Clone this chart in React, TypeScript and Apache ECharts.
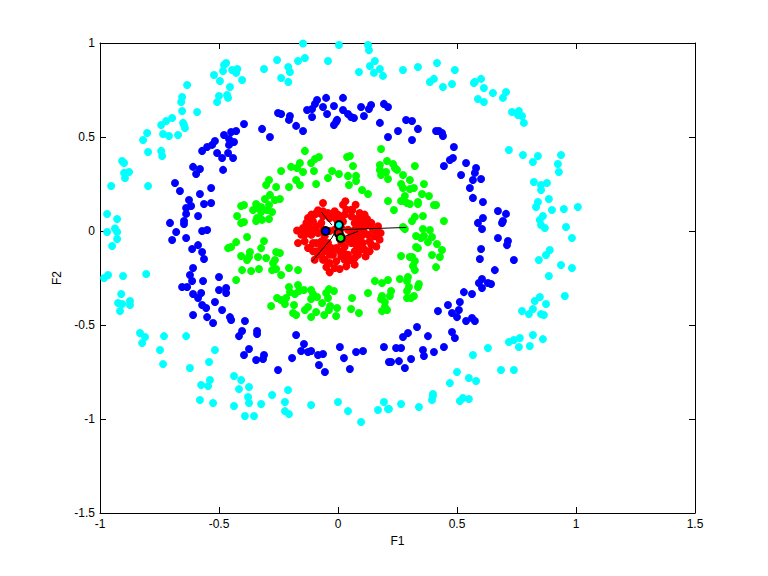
import React, { useEffect, useRef } from "react";
import * as echarts from "echarts";

const xTicks = [-1, -0.5, 0, 0.5, 1, 1.5];
const yTicks = [-1.5, -1, -0.5, 0, 0.5, 1];

const cyanPoints: number[][] = [
[-.147,.997],[.004,.989],[.126,.989],[.130,.961],[-.139,.920],[-.168,.904],[-.256,.910],[-.042,.904],[-.311,.862],[-.209,.872],[-.202,.846],[-.239,.814],[-.209,.793],[.155,.904],[.134,.878],[.176,.862],[.151,.841],[.088,.846],[.189,.825],
[-.470,.894],[-.479,.883],[-.483,.851],[-.521,.830],[-.445,.856],[-.423,.862],[-.428,.841],[-.496,.798],[-.403,.803],[-.454,.766],[-.634,.777],[-.500,.718],[-.466,.723],[-.462,.708],[-.508,.686],[-.655,.713],[-.659,.686],[-.592,.633],[-.655,.638],[-.697,.601],[-.722,.585],[-.743,.564],[-.651,.575],[-.647,.564],[-.643,.548],[-.735,.516],[-.710,.505],[-.672,.511],[-.802,.521],[-.819,.484],[-.798,.420],[-.743,.426],[-.739,.399],[-.907,.372],[-.899,.362],[-.878,.314],[-.899,.309],[-.895,.282],[-.953,.239],[-.798,.239],[-.970,.090],[-.928,.064],[-.937,.013],
[.273,.856],[.336,.872],[.416,.894],[.491,.856],[.386,.793],[.403,.809],[.441,.766],[.479,.782],[.571,.787],[.575,.793],[.601,.809],[.613,.761],[.651,.734],[.706,.739],[.693,.708],[.588,.702],[.613,.686],[.731,.633],[.760,.638],[.756,.617],[.773,.612],[.781,.575],[.718,.431],[.777,.404],[.840,.399],[.819,.367],[.937,.404],[.924,.356],[.928,.314],[.823,.261],[.853,.245],[.878,.255],[.853,.218],[.886,.170],[.840,.154],[.832,.128],[.899,.112],[.949,.117],[1.008,.128],[.861,.080],[.848,.059],[.853,.032],[.869,.016],[.958,.021],
[-.970,-.005],[-.928,-.005],[-.928,-.043],[-.949,-.080],[-.983,-.250],[-.966,-.234],[-.903,-.239],[-.806,-.229],[-.911,-.335],[-.924,-.383],[-.907,-.388],[-.874,-.372],[-.874,-.394],[-.916,-.426],[-.832,-.543],[-.811,-.564],[-.823,-.596],[-.731,-.559],[-.638,-.559],[-.748,-.633],[-.517,-.633],[-.735,-.708],[-.542,-.697],[-.622,-.729],[-.437,-.771],[-.407,-.793],[-.538,-.793],[-.575,-.819],[-.546,-.825],[-.416,-.841],[-.374,-.830],[-.277,-.872],[-.210,-.846],[-.378,-.883],[-.580,-.899],[-.525,-.915],[-.374,-.915],[-.323,-.920],[-.437,-.931],[-.223,-.910],[-.113,-.926],[0,-.910],[.193,-.910],[-.223,-.958],[-.206,-.974],[-.391,-.984],[-.353,-.984],[.042,-.958],[.168,-.952],[.210,-.947],[.097,-1.016],
[.983,-.037],[.890,-.101],[.874,-.128],[.844,-.154],[.937,-.181],[.983,-.197],[.886,-.239],[.953,-.346],[.848,-.351],[.827,-.372],[.874,-.388],[.819,-.415],[.773,-.426],[.802,-.442],[.853,-.442],[.865,-.447],[.819,-.553],[.861,-.575],[.764,-.569],[.739,-.580],[.718,-.590],[.760,-.617],[.806,-.612],[.630,-.622],[.567,-.660],[.685,-.739],[.739,-.739],[.500,-.750],[.550,-.782],[.580,-.798],[.470,-.809],[.399,-.867],[.399,-.878],[.395,-.899],[.525,-.888],[.512,-.904],[.550,-.894],[.265,-.920],[.340,-.936],[.214,-.947],
];

const bluePoints: number[][] = [
[-.395,.569],[-.428,.532],[-.449,.527],[-.479,.511],[-.517,.479],[-.529,.458],[-.550,.447],[-.571,.426],[-.458,.489],[-.437,.473],[-.458,.458],[-.508,.415],[-.462,.415],[-.487,.388],[-.441,.388],[-.483,.325],[-.609,.341],[-.580,.330],[-.596,.303],[-.685,.255],[-.664,.213],[-.533,.229],[-.580,.197],[-.626,.165],[-.617,.133],[-.638,.122],[-.563,.144],[-.533,.149],[-.638,.091],[-.588,.080],[-.647,.053],[-.647,.037],[-.706,.043],[-.319,.543],[-.286,.500],[-.252,.628],[-.239,.622],[-.202,.612],[-.206,.591],[-.176,.559],[-.147,.532],[-.130,.644],[-.109,.649],[-.109,.606],[-.097,.676],[-.088,.697],[-.063,.660],[-.050,.708],[-.046,.622],[-.017,.665],[.021,.708],[.021,.644],[.042,.622],[.055,.606],[.067,.601],[.097,.660],[.109,.612],[.139,.670],[.130,.649],[-.004,.591],[-.008,.580],[-.017,.564],[.176,.575],[.193,.676],[.210,.660],[.210,.500],
[.286,.590],[.311,.585],[.252,.532],[.336,.543],[.311,.484],[.412,.532],[.424,.532],[.437,.521],[.441,.505],[.487,.447],[.483,.388],[.470,.378],[.445,.346],[.538,.362],[.580,.335],[.575,.309],[.517,.298],[.567,.271],[.601,.277],[.554,.229],[.567,.176],[.609,.154],[.672,.106],[.706,.091],[.609,.069],[.588,.043],[.693,.053],[.689,.043],[.605,.011],
[-.697,-.048],[-.680,-.005],[-.638,-.037],[-.571,0],[-.550,.005],[-.588,-.075],[-.613,-.096],[-.571,-.112],[-.563,-.149],[-.609,-.197],[-.622,-.234],[-.613,-.266],[-.567,-.266],[-.500,-.245],[-.655,-.298],[-.634,-.298],[-.609,-.335],[-.575,-.330],[-.588,-.356],[-.500,-.314],[-.470,-.303],[-.470,-.330],[-.517,-.378],[-.571,-.394],[-.554,-.410],[-.487,-.420],[-.609,-.447],[-.550,-.458],[-.525,-.489],[-.454,-.458],[-.449,-.473],[-.391,-.479],[-.403,-.532],[-.416,-.559],[-.340,-.532],[-.340,-.548],[-.176,-.553],[-.143,-.601],[-.155,-.638],[-.126,-.644],[-.113,-.638],[-.084,-.660],[-.063,-.654],[.008,-.617],[.025,-.676],[.076,-.644],[.105,-.638],[.193,-.617],[-.374,-.628],[-.395,-.660],[-.311,-.660],[-.315,-.681],[-.344,-.686],[-.193,-.676],[-.252,-.739],[-.080,-.713],[-.055,-.750],[.050,-.734],[.214,-.697],
[.672,-.037],[.714,-.053],[.710,-.075],[.601,-.096],[.596,-.149],[.739,-.154],[.659,-.208],[.605,-.255],[.592,-.277],[.630,-.277],[.643,-.282],[.605,-.303],[.529,-.325],[.563,-.335],[.512,-.378],[.462,-.394],[.508,-.420],[.420,-.426],[.479,-.436],[.500,-.458],[.563,-.463],[.538,-.479],[.575,-.479],[.332,-.511],[.294,-.543],[.273,-.564],[.378,-.559],[.479,-.537],[.491,-.569],[.445,-.617],[.244,-.622],[.265,-.622],[.357,-.633],[.403,-.644],[.361,-.665],[.307,-.681],[.256,-.692],[.223,-.697],[.281,-.729],
];

const greenPoints: number[][] = [
[-.139,.426],[-.080,.394],[-.097,.383],[-.113,.362],[-.160,.362],[-.197,.341],[-.172,.335],[-.147,.314],[-.239,.319],[-.176,.271],[-.160,.245],[-.101,.319],[-.025,.319],[.004,.303],[-.042,.282],[.038,.394],[.050,.399],[.063,.346],[.042,.293],[.076,.293],[.076,.266],[.046,.245],[.101,.218],[.126,.197],[.181,.436],[.176,.351],[.206,.372],[.176,.325],[.202,.314],[.181,.298],[.210,.277],[.210,.160],[-.092,.250],[-.290,.271],[-.302,.245],[-.260,.234],[-.206,.234],[-.286,.192],[-.307,.170],[-.265,.165],[-.244,.170],[-.395,.138],[-.407,.133],[-.344,.144],[-.290,.138],[-.323,.128],[-.357,.112],[-.336,.122],[-.298,.112],[-.277,.101],[-.323,.101],[-.424,.080],[-.340,.069],[-.344,.053],[-.319,.059],[-.290,.064],[-.395,.048],[-.407,.043],
[.231,.356],[.239,.335],[.248,.325],[.323,.346],[.273,.298],[.302,.271],[.265,.250],[.273,.229],[.361,.250],[.302,.223],[.319,.229],[.353,.197],[.382,.186],[.281,.186],[.265,.160],[.277,.160],[.290,.149],[.302,.144],[.336,.154],[.336,.144],[.403,.138],[.412,.138],[.235,.112],[.357,.080],[.323,.075],[.311,.053],[.445,.053],[.273,.021],[.357,.011],[.386,.005],[.281,.011],
[-.382,-.032],[-.428,-.059],[-.462,-.091],[-.449,-.085],[-.311,-.053],[-.323,-.091],[-.370,-.112],[-.260,-.112],[-.244,-.117],[-.407,-.133],[-.374,-.138],[-.382,-.154],[-.336,-.138],[-.302,-.144],[-.265,-.154],[-.273,-.170],[-.403,-.208],[-.365,-.213],[-.332,-.202],[-.277,-.208],[-.260,-.202],[-.206,-.197],[-.168,-.208],[-.239,-.234],[-.428,-.261],[.155,-.266],[.185,-.277],[.210,-.261],[-.206,-.298],[-.168,-.287],[-.202,-.325],[-.164,-.319],[-.143,-.314],[-.113,-.314],[-.181,-.335],[-.105,-.335],[-.038,-.309],[-.017,-.319],[-.050,-.330],[.126,-.330],[-.256,-.356],[-.239,-.367],[-.218,-.356],[-.223,-.388],[-.113,-.362],[-.088,-.351],[-.042,-.356],[.059,-.356],[.185,-.346],[.181,-.362],[.197,-.378],[-.281,-.399],[-.185,-.394],[-.067,-.383],[-.033,-.399],[-.004,-.410],[-.126,-.404],[-.139,-.420],[-.038,-.420],[.055,-.415],[.197,-.404],[.185,-.426],[.206,-.420],[-.189,-.436],[-.176,-.447],[-.092,-.431],[-.058,-.447],[-.113,-.458],[-.008,-.452],[.088,-.436],
[.328,-.027],[.349,-.037],[.361,-.027],[.395,-.032],[.378,-.059],[.416,-.069],[.328,-.085],[.336,-.091],[.437,-.101],[.395,-.128],[.428,-.138],[.265,-.133],[.302,-.138],[.311,-.138],[.323,-.160],[.315,-.186],[.323,-.208],[.412,-.192],[.294,-.245],[.260,-.255],[.290,-.266],[.340,-.282],[.336,-.298],[.298,-.298],[.290,-.319],[.223,-.319],[.218,-.346],[.319,-.346],[.307,-.356],[.290,-.356],
];

const redPoints: number[][] = [
[-.063,.149],[.031,.158],[.021,.140],[.074,.140],[.060,.110],[.091,.096],[.112,.087],[.122,.064],[.140,.043],[.168,.025],[.179,-.011],[.154,-.028],[.175,-.046],[.140,-.073],[.161,-.082],[.133,-.108],[.116,-.135],[.084,-.126],[.070,-.179],[.035,-.188],[.007,-.202],[-.035,-.220],[-.049,-.192],[-.063,-.153],[-.098,-.153],[-.105,-.108],[-.126,-.090],[-.168,-.064],[-.172,.003],[-.140,-.020],[-.133,.043],[-.112,.087],[-.084,.110],[-.063,.105],[-.014,.105],[.007,.078],
[-.091,.096],[-.063,.078],[-.035,.069],[-.007,.064],[.028,.087],[.056,.078],[.084,.069],[-.119,.051],[-.070,.043],[0,.051],[.070,.043],[.098,.051],[.126,.034],[-.147,.016],[-.119,.016],[-.091,.025],[-.063,.007],[.014,.016],[.042,.007],[.070,.007],[.098,.016],[.147,.007],[-.112,-.020],[-.084,-.011],[-.056,-.028],[.014,-.028],[-.140,-.055],[-.105,-.064],[-.070,-.055],[-.042,-.064],[.014,-.064],[.042,-.046],[.070,-.037],[.098,-.028],[.126,-.020],[-.070,-.090],[-.042,-.099],[-.007,-.090],[.028,-.082],[.077,-.073],[.105,-.064],[-.084,-.126],[-.056,-.108],[-.021,-.126],[.007,-.108],[.042,-.126],[.070,-.108],[.098,-.099],[-.035,-.170],[-.007,-.161],[.028,-.153],[.056,-.153],
[-.042,.096],[-.105,.051],[-.154,-.020],[-.126,-.011],[-.098,.007],[-.035,0],[-.014,.007],[.021,.051],[.084,.034],[.112,.025],[.056,-.020],[.084,-.011],[.112,-.011],[.161,-.011],[.133,-.055],[.091,-.055],[.056,-.064],[.021,-.108],[-.035,-.126],[-.070,-.126],[.084,-.090],[.112,-.099],[.014,-.135],[-.056,-.153],[-.014,-.197],[.042,-.161],[.070,-.144],[-.056,-.064],[-.119,-.090],[-.091,-.108],[-.091,-.064],[-.028,-.090],[.056,.113],[0,.087],[-.028,.087],[-.077,.096],[-.098,.087],[-.126,.069],[.035,.113],[.098,.078],
];

const centerBlue = [-.052, 0];
const centerCyan = [.004, .032];
const centerGreen = [.011, -.037];
const centerRed = [.003, -.011];

const linkSegments: number[][][] = [
  [[.014, .007], [.287, .019]],
  [[-.026, -.037], [-.109, -.162]],
  [[-.026, .032], [-.070, .101]],
  [[.011, -.037], [.084, -.002]],
  [[.004, .032], [-.026, -.037]],
];

const scatter = (data: number[][], color: string) => ({
  type: "scatter",
  data,
  symbol: "circle",
  symbolSize: 8,
  itemStyle: { color, opacity: 1 },
  silent: true,
});

const center = (point: number[], color: string) => ({
  type: "scatter",
  data: [point],
  symbol: "circle",
  symbolSize: 8,
  z: 5,
  itemStyle: { color, borderColor: "#000", borderWidth: 2, opacity: 1 },
  silent: true,
});

const baseAxis = {
  type: "value",
  axisLine: { show: true, onZero: false, lineStyle: { color: "#000", width: 1 } },
  axisTick: { show: true, inside: true, length: 6, lineStyle: { color: "#000", width: 1 } },
  splitLine: { show: false },
};

const fontStyle = { color: "#000", fontSize: 12, fontFamily: "Liberation Sans" };

export default function App() {
  const ref = useRef<HTMLDivElement>(null);
  useEffect(() => {
    const chart = echarts.init(ref.current!, null, { renderer: "svg" });
    chart.setOption({
      animation: false,
      backgroundColor: "#fff",
      grid: { left: 100, top: 43, width: 595, height: 470, containLabel: false },
      xAxis: [
        {
          ...baseAxis, position: "bottom", min: xTicks[0], max: xTicks[xTicks.length - 1], interval: 0.5,
          name: "F1", nameLocation: "middle", nameGap: 22, nameTextStyle: fontStyle,
          axisLabel: { ...fontStyle, margin: 5, showMinLabel: true, showMaxLabel: true, hideOverlap: false },
        },
        {
          ...baseAxis, position: "top", min: xTicks[0], max: xTicks[xTicks.length - 1], interval: 0.5,
          axisLabel: { show: false },
        },
      ],
      yAxis: [
        {
          ...baseAxis, position: "left", min: yTicks[0], max: yTicks[yTicks.length - 1], interval: 0.5,
          name: "F2", nameLocation: "middle", nameGap: 36, nameTextStyle: fontStyle,
          axisLabel: { ...fontStyle, margin: 5, showMinLabel: true, showMaxLabel: true, hideOverlap: false },
        },
        {
          ...baseAxis, position: "right", min: yTicks[0], max: yTicks[yTicks.length - 1], interval: 0.5,
          axisLabel: { show: false },
        },
      ],
      series: [
        scatter(cyanPoints, "#00ffff"),
        scatter(bluePoints, "#0000ff"),
        scatter(greenPoints, "#00ff00"),
        scatter(redPoints, "#ff0000"),
        ...linkSegments.map((seg) => ({
          type: "line",
          data: seg,
          symbol: "none",
          z: 4,
          silent: true,
          lineStyle: { color: "#000", width: 1 },
        })),
        center(centerRed, "#ff0000"),
        center(centerBlue, "#0000ff"),
        center(centerCyan, "#00ffff"),
        center(centerGreen, "#00ff00"),
      ],
    });
    return () => chart.dispose();
  }, []);
  return <div ref={ref} style={{ position: "absolute", left: 0, top: 0, width: 768, height: 576 }} />;
}
